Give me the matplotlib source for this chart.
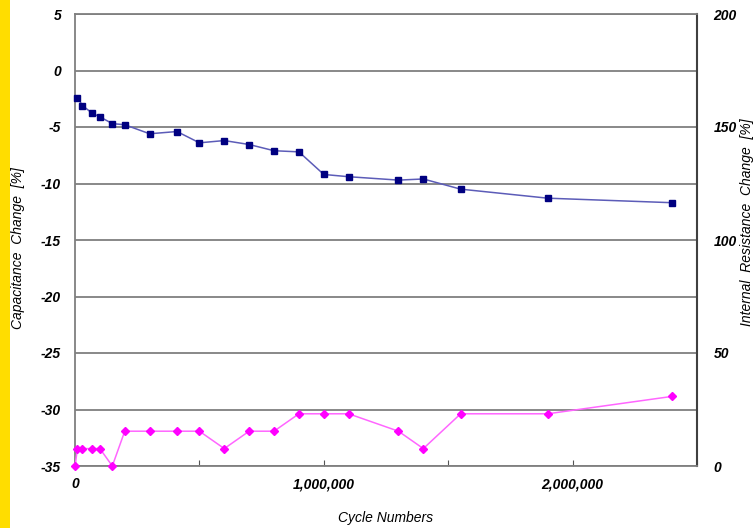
import matplotlib
matplotlib.use('Agg')
import matplotlib.pyplot as plt
import matplotlib.patches as patches

# cycle numbers
cycles = [10000, 30000, 70000, 100000, 150000, 200000, 300000, 410000, 500000,
          600000, 700000, 800000, 900000, 1000000, 1100000, 1300000, 1400000,
          1550000, 1900000, 2400000]
# capacitance change [%]
cap_change = [-2.4, -3.1, -3.8, -4.1, -4.7, -4.8, -5.6, -5.4, -6.4, -6.2,
              -6.55, -7.1, -7.2, -9.2, -9.4, -9.7, -9.6, -10.5, -11.3, -11.7]
# internal resistance change [%] (starts at cycle 0)
res_cycles = [0] + cycles
res_change = [0, 7.7, 7.7, 7.7, 7.7, 0, 15.4, 15.4, 15.4, 15.4, 7.7, 15.4,
              15.4, 23.1, 23.1, 23.1, 15.4, 7.7, 23.1, 23.1, 30.8]

x_ticks = [0, 500000, 1000000, 1500000, 2000000, 2500000]
x_labels = ['0', '', '1,000,000', '', '2,000,000', '']
left_ticks = [5, 0, -5, -10, -15, -20, -25, -30, -35]
right_ticks = [0, 50, 100, 150, 200]

tick_font = dict(family='Liberation Sans', weight='bold', style='italic', size=10)
label_font = dict(family='Liberation Sans', style='italic', size=10)

fig = plt.figure(figsize=(7.55, 5.28), dpi=100)
fig.patch.set_facecolor('white')
# yellow strip on the left edge
fig.patches.append(patches.Rectangle((0, 0), 10 / 755, 1, transform=fig.transFigure,
                                     facecolor='#ffdd00', edgecolor='none'))

ax = fig.add_axes([75 / 755, 1 - 466 / 528, 622 / 755, 452 / 528])
ax.set_xlim(0, 2500000)
ax.set_ylim(-35, 5)
ax.set_yticks(left_ticks)
ax.set_yticklabels([str(t) for t in left_ticks], fontdict=tick_font)
ax.set_xticks(x_ticks)
ax.set_xticklabels(x_labels, fontdict=tick_font)
ax.tick_params(axis='y', length=0, pad=10)
ax.tick_params(axis='x', direction='in', length=4, color='#555555', pad=8)
ax.grid(axis='y', color='#7f7f7f', linewidth=1.3)
ax.set_axisbelow(True)
for s in ['left', 'bottom', 'top']:
    ax.spines[s].set_color('#7f7f7f')
    ax.spines[s].set_linewidth(1.3)
ax.spines['right'].set_color('#404040')
ax.spines['right'].set_linewidth(1.5)

ax.plot(cycles, cap_change, color='#5c5cb8', linewidth=1.1, marker='s',
        markersize=4.8, markerfacecolor='#000080', markeredgecolor='#000080',
        clip_on=False, zorder=3)

ax2 = ax.twinx()
ax2.set_ylim(0, 200)
ax2.set_yticks(right_ticks)
ax2.set_yticklabels([str(t) for t in right_ticks], fontdict=tick_font)
ax2.tick_params(axis='y', length=0, pad=12)
for s in ax2.spines.values():
    s.set_visible(False)
ax2.plot(res_cycles, res_change, color='#ff66ff', linewidth=1.1, marker='D',
         markersize=4.2, markerfacecolor='#ff00ff', markeredgecolor='#ff00ff',
         clip_on=False, zorder=3)

# axis titles
fig.text(18 / 755, 1 - 248 / 528, 'Capacitance  Change  [%]', rotation=90,
         ha='center', va='center', fontdict=label_font)
fig.text(747 / 755, 1 - 222 / 528, 'Internal  Resistance  Change  [%]', rotation=90,
         ha='center', va='center', fontdict=label_font)
fig.text(386 / 755, 1 - 518 / 528, 'Cycle Numbers', ha='center', va='center',
         fontdict=label_font)

plt.savefig('out.png', dpi=100)
